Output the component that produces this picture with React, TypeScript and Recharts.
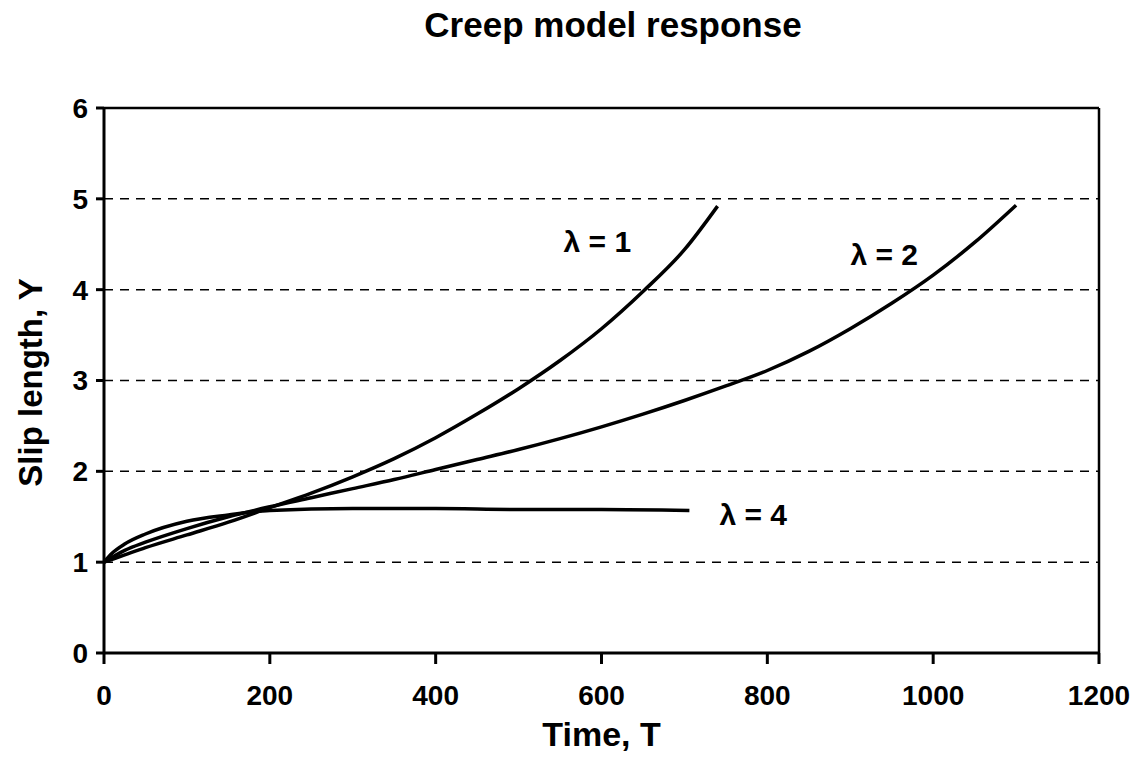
import { LineChart, Line, XAxis, YAxis, CartesianGrid, ReferenceLine, ReferenceDot, Label } from "recharts";

// values
const lambda1T = [0, 25, 50, 100, 150, 200, 250, 300, 350, 400, 450, 500, 550, 600, 650, 700, 740];
const lambda1Y = [1, 1.08, 1.16, 1.3, 1.44, 1.6, 1.76, 1.94, 2.14, 2.37, 2.63, 2.91, 3.22, 3.57, 3.98, 4.44, 4.92];

const lambda2T = [0, 25, 50, 100, 150, 200, 250, 300, 350, 400, 450, 500, 550, 600, 650, 700, 750, 800, 850, 900, 950, 1000, 1050, 1100];
const lambda2Y = [1, 1.13, 1.22, 1.37, 1.5, 1.61, 1.71, 1.81, 1.91, 2.02, 2.13, 2.24, 2.36, 2.49, 2.63, 2.78, 2.94, 3.11, 3.32, 3.57, 3.85, 4.16, 4.52, 4.93];

const lambda4T = [0, 10, 25, 50, 100, 150, 200, 300, 400, 500, 600, 706];
const lambda4Y = [1, 1.1, 1.2, 1.31, 1.45, 1.52, 1.57, 1.59, 1.59, 1.58, 1.58, 1.57];

const xTicks = [0, 200, 400, 600, 800, 1000, 1200];
const yTicks = [0, 1, 2, 3, 4, 5, 6];

const curveLabels = [
  { text: "λ = 1", t: 595, y: 4.53 },
  { text: "λ = 2", t: 941, y: 4.39 },
  { text: "λ = 4", t: 783, y: 1.53 },
];

const toPoints = (ts: number[], ys: number[]) => ts.map((t, i) => ({ t, y: ys[i] }));

const series = [
  { name: "lambda1", data: toPoints(lambda1T, lambda1Y) },
  { name: "lambda2", data: toPoints(lambda2T, lambda2Y) },
  { name: "lambda4", data: toPoints(lambda4T, lambda4Y) },
];

const FONT = '"Liberation Sans", Arial, sans-serif';

const YTitle = (props: any) => {
  const vb = props.viewBox;
  const cx = vb.x + 30;
  const cy = vb.y + vb.height / 2 + 2;
  return (
    <text x={cx} y={cy} transform={`rotate(-90 ${cx} ${cy})`} textAnchor="middle" dominantBaseline="central"
      fontFamily={FONT} fontWeight="bold" fontSize={33} fill="#000">
      Slip length, Y
    </text>
  );
};

const XTitle = (props: any) => {
  const vb = props.viewBox;
  return (
    <text x={vb.x + vb.width / 2} y={vb.y + 93} textAnchor="middle"
      fontFamily={FONT} fontWeight="bold" fontSize={34} fill="#000">
      Time, T
    </text>
  );
};

export default function App() {
  return (
    <div style={{ position: "absolute", left: 0, top: 0, width: 1133, height: 758, background: "#fff" }}>
      <div style={{
        position: "absolute", left: 0, width: 1226, top: 5, textAlign: "center",
        fontFamily: FONT, fontWeight: "bold", fontSize: 35, color: "#000",
      }}>
        Creep model response
      </div>
      <LineChart width={1133} height={758} margin={{ top: 108, right: 34, bottom: 0, left: 0 }}>
        <CartesianGrid vertical={false} stroke="#000" strokeWidth={1.5} strokeDasharray="9 7" />
        <XAxis type="number" dataKey="t" domain={[0, 1200]} ticks={xTicks} height={105}
          axisLine={{ stroke: "#000", strokeWidth: 3 }} tickLine={{ stroke: "#000", strokeWidth: 3 }}
          tickSize={11} tickMargin={21} allowDuplicatedCategory={false}
          tick={{ fill: "#000", fontFamily: FONT, fontWeight: "bold", fontSize: 28 }}>
          <Label content={<XTitle />} />
        </XAxis>
        <YAxis type="number" domain={[0, 6]} ticks={yTicks} width={104}
          axisLine={{ stroke: "#000", strokeWidth: 3 }} tickLine={{ stroke: "#000", strokeWidth: 3 }}
          tickSize={8} tickMargin={8}
          tick={{ fill: "#000", fontFamily: FONT, fontWeight: "bold", fontSize: 28 }}>
          <Label content={<YTitle />} />
        </YAxis>
        <ReferenceLine y={6} stroke="#000" strokeWidth={2.5} />
        <ReferenceLine x={1200} stroke="#000" strokeWidth={2.5} />
        {series.map((s) => (
          <Line key={s.name} data={s.data} dataKey="y" type="monotone" stroke="#000" strokeWidth={3.5}
            dot={false} activeDot={false} isAnimationActive={false} />
        ))}
        {curveLabels.map((c) => (
          <ReferenceDot key={c.text} x={c.t} y={c.y} r={0} stroke="none" fill="none"
            label={(p: any) => (
              <text x={p.viewBox.x + (p.viewBox.width || 0) / 2} y={p.viewBox.y + (p.viewBox.height || 0) / 2}
                textAnchor="middle" dominantBaseline="central"
                fontFamily={FONT} fontWeight="bold" fontSize={30} fill="#000">
                {c.text}
              </text>
            )} />
        ))}
      </LineChart>
    </div>
  );
}
